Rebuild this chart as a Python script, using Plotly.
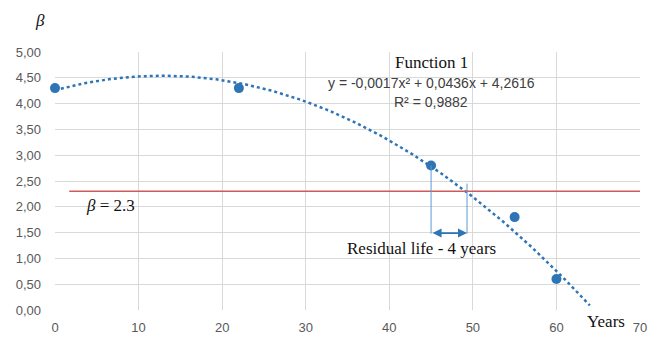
import numpy as np
import plotly.graph_objects as go

years = [0, 22, 45, 55, 60]
beta = [4.3, 4.3, 2.8, 1.8, 0.6]
trend_coef = [-0.0017, 0.0436, 4.2616]  # from the displayed equation
trend_range = [0, 64]
beta_threshold = 2.3
threshold_x = [1.7, 70]
residual_start = 45
residual_end = 49.3
x_ticks = [0, 10, 20, 30, 40, 50, 60, 70]
y_ticks = [0, 0.5, 1, 1.5, 2, 2.5, 3, 3.5, 4, 4.5, 5]
y_tick_labels = ["0,00", "0,50", "1,00", "1,50", "2,00", "2,50", "3,00", "3,50", "4,00", "4,50", "5,00"]

tx = np.linspace(trend_range[0], trend_range[1], 200)
ty = np.polyval(trend_coef, tx)

W, H = 650, 337
ml, mt = 55, 52
mr = W - 640
mb = H - 310
pw, ph = W - ml - mr, H - mt - mb


def px_to_paper(px, py):
    return (px - ml) / pw, (H - mb - py) / ph


blue = "#2E75B6"
fig = go.Figure()
fig.add_trace(go.Scatter(x=tx, y=ty, mode="lines",
                         line=dict(color=blue, width=2.5, dash="dot"),
                         hoverinfo="skip", showlegend=False))
fig.add_trace(go.Scatter(x=threshold_x, y=[beta_threshold, beta_threshold], mode="lines",
                         line=dict(color="#D05A5A", width=1.4), showlegend=False))
fig.add_trace(go.Scatter(x=years, y=beta, mode="markers",
                         marker=dict(color=blue, size=10), cliponaxis=False, showlegend=False))

fig.add_shape(type="line", x0=residual_start, x1=residual_start, y0=1.48, y1=2.8,
              line=dict(color="#5B9BD5", width=1))
fig.add_shape(type="line", x0=residual_end, x1=residual_end, y0=1.48, y1=2.45,
              line=dict(color="#5B9BD5", width=1))
fig.add_annotation(x=residual_end, y=1.49, ax=residual_start, ay=1.49,
                   xref="x", yref="y", axref="x", ayref="y", text="",
                   showarrow=True, arrowhead=2, arrowside="end+start",
                   arrowsize=1, arrowwidth=1.8, arrowcolor=blue)

serif = "Liberation Serif"
fig.add_annotation(x=43.9, y=1.2, text="Residual life - 4 years", showarrow=False,
                   font=dict(family=serif, size=17, color="#111"))
fig.add_annotation(x=6.6, y=2.02, text="<i>β</i> = 2.3", showarrow=False,
                   font=dict(family=serif, size=17, color="#111"))
fig.add_annotation(x=45, y=4.8, text="Function 1", showarrow=False,
                   font=dict(family=serif, size=17, color="#111"))
fig.add_annotation(x=45, y=4.4, text="y = -0,0017x² + 0,0436x + 4,2616", showarrow=False,
                   font=dict(family="Liberation Sans", size=14, color="#404040"))
fig.add_annotation(x=45, y=4.03, text="R² = 0,9882", showarrow=False,
                   font=dict(family="Liberation Sans", size=14, color="#404040"))
yx, yy = px_to_paper(606, 321)
fig.add_annotation(x=yx, y=yy, xref="paper", yref="paper", xanchor="center", yanchor="middle",
                   text="Years", showarrow=False,
                   font=dict(family=serif, size=17, color="#111"))
bx, by = px_to_paper(40, 20)
fig.add_annotation(x=bx, y=by, xref="paper", yref="paper", xanchor="center", yanchor="middle",
                   text="<i>β</i>", showarrow=False,
                   font=dict(family=serif, size=17, color="#111"))

fig.update_layout(
    width=W, height=H,
    margin=dict(l=ml, r=mr, t=mt, b=mb, autoexpand=False),
    paper_bgcolor="white", plot_bgcolor="white",
    xaxis=dict(range=[0, 70], tickvals=x_ticks, showgrid=True, gridcolor="#D9D9D9",
               zeroline=False, showline=False, ticks="", automargin=False,
               ticklabelstandoff=8,
               tickfont=dict(family="Liberation Sans", size=13, color="#595959")),
    yaxis=dict(range=[0, 5], tickvals=y_ticks, ticktext=y_tick_labels, showgrid=True,
               gridcolor="#D9D9D9", zeroline=False, showline=False, ticks="", automargin=False,
               ticklabelstandoff=13,
               tickfont=dict(family="Liberation Sans", size=13, color="#595959")),
)
fig.write_html("out.html", config={"displayModeBar": False},
               post_script="document.body.style.margin='0';document.body.style.overflow='hidden';")
